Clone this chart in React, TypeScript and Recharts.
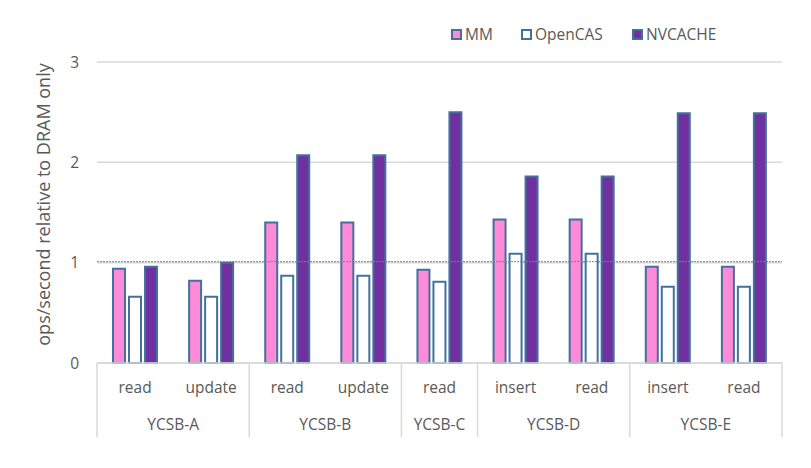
import React from "react";
import { BarChart, Bar, XAxis, YAxis, CartesianGrid, ReferenceLine, Label } from "recharts";

// sub labels and their group
const ops = ["read", "update", "read", "update", "read", "insert", "read", "insert", "read"];
const workloads = ["YCSB-A", "YCSB-A", "YCSB-B", "YCSB-B", "YCSB-C", "YCSB-D", "YCSB-D", "YCSB-E", "YCSB-E"];

const mm = [0.94, 0.82, 1.4, 1.4, 0.93, 1.43, 1.43, 0.96, 0.96];
const opencas = [0.66, 0.66, 0.87, 0.87, 0.81, 1.09, 1.09, 0.76, 0.76];
const nvcache = [0.96, 1.0, 2.07, 2.07, 2.5, 1.86, 1.86, 2.49, 2.49];

const yTicks = [0, 1, 2, 3];

const data = ops.map((op, i) => ({
    key: `${workloads[i]}-${i}`,
    op,
    workload: workloads[i],
    MM: mm[i],
    OpenCAS: opencas[i],
    NVCACHE: nvcache[i],
}));

const FONT = "'Open Sans', sans-serif";
const TEXT = "#595959";
const EDGE = "#41719c";
const LINE = "#d9d9d9";

const series = [
    { key: "MM", fill: "#ff8ad8", left: 451 },
    { key: "OpenCAS", fill: "#ffffff", left: 521 },
    { key: "NVCACHE", fill: "#7030a0", left: 632 },
];

const TwoLevelTick = (props: any) => {
    const { x, y, payload } = props;
    const i = payload.index;
    const half = payload.offset || 38;
    const band = half * 2;
    const w = workloads[i];
    const first = i === 0 || workloads[i - 1] !== w;
    const count = workloads.filter((g) => g === w).length;
    const last = i === workloads.length - 1;
    const top = y - 8;
    return (
        <g>
            <text x={x} y={top + 30} textAnchor="middle" fill={TEXT} fontSize={15.5} fontFamily={FONT}>
                {ops[i]}
            </text>
            {first && (
                <>
                    <line x1={x - half} x2={x - half} y1={top} y2={top + 74} stroke={LINE} strokeWidth={1.5} />
                    <text
                        x={x - half + (count * band) / 2}
                        y={top + 67}
                        textAnchor="middle"
                        fill={TEXT}
                        fontSize={15.5}
                        fontFamily={FONT}
                    >
                        {w}
                    </text>
                </>
            )}
            {last && <line x1={x + half} x2={x + half} y1={top} y2={top + 74} stroke={LINE} strokeWidth={1.5} />}
        </g>
    );
};

const YTitle = (props: any) => {
    const vb = props.viewBox;
    const cx = vb.x + 50;
    const cy = vb.y + vb.height / 2 - 8;
    return (
        <text
            x={cx}
            y={cy}
            transform={`rotate(-90, ${cx}, ${cy})`}
            textAnchor="middle"
            fill={TEXT}
            fontSize={18}
            fontFamily={FONT}
        >
            ops/second relative to DRAM only
        </text>
    );
};

const LegendBox = () => (
    <div style={{ position: "absolute", left: 0, top: 23, fontFamily: FONT, fontSize: 15.5, color: TEXT }}>
        {series.map((s) => (
            <div
                key={s.key}
                style={{ position: "absolute", left: s.left, display: "flex", alignItems: "center", whiteSpace: "nowrap" }}
            >
                <span
                    style={{
                        width: 7,
                        height: 7,
                        background: s.fill,
                        border: `2px solid ${EDGE}`,
                        marginRight: 3,
                        display: "inline-block",
                    }}
                />
                <span>{s.key}</span>
            </div>
        ))}
    </div>
);

export default function App() {
    return (
        <div style={{ position: "absolute", left: 0, top: 0, width: 811, height: 468, background: "#fff" }}>
            <BarChart
                width={811}
                height={468}
                data={data}
                margin={{ top: 62, right: 29, left: 0, bottom: 0 }}
                barSize={12}
                barGap={4}
            >
                <CartesianGrid horizontal vertical={false} stroke={LINE} strokeWidth={1.5} />
                <XAxis
                    dataKey="key"
                    height={105}
                    interval={0}
                    axisLine={{ stroke: LINE, strokeWidth: 1.5 }}
                    tickLine={false}
                    tick={<TwoLevelTick />}
                />
                <YAxis
                    domain={[0, 3]}
                    ticks={yTicks}
                    width={97}
                    axisLine={false}
                    tickLine={false}
                    tickMargin={12}
                    tick={{ fill: TEXT, fontSize: 15.5, fontFamily: FONT }}
                >
                    <Label content={<YTitle />} />
                </YAxis>
                {series.map((s) => (
                    <Bar
                        key={s.key}
                        dataKey={s.key}
                        fill={s.fill}
                        stroke={EDGE}
                        strokeWidth={2}
                        isAnimationActive={false}
                    />
                ))}
                <ReferenceLine y={1.01} stroke="#808080" strokeDasharray="2 1" strokeWidth={1} ifOverflow="extendDomain" />
            </BarChart>
            <LegendBox />
        </div>
    );
}
